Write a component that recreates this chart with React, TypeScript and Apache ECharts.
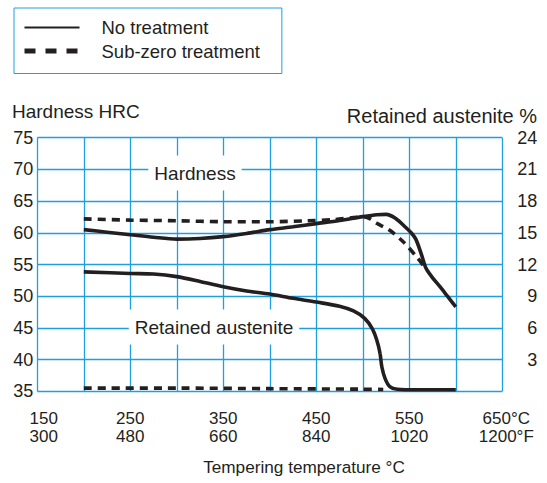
import React, { useEffect, useRef } from "react";
import * as echarts from "echarts";

// ---- data ----
const xTicksC = [150, 250, 350, 450, 550, 650];
const xTicksF = [300, 480, 660, 840, 1020, 1200];

// Hardness HRC vs tempering temperature (°C)
const hardnessNoTreatment: [number, number][] = [
  [200, 60.5], [225, 60.1], [250, 59.7], [275, 59.3], [300, 59.0], [325, 59.1],
  [350, 59.4], [375, 59.9], [400, 60.5], [425, 60.95], [450, 61.45], [475, 61.95],
  [500, 62.55], [515, 62.85], [525, 62.9], [535, 62.3], [545, 61.0], [552, 60.0],
  [557, 59.0], [563, 56.6], [568, 54.4], [574, 53.1], [583, 51.5], [591, 50.0], [600, 48.3],
];
const hardnessSubZero: [number, number][] = [
  [200, 62.2], [250, 62.0], [300, 61.9], [350, 61.75], [400, 61.75], [440, 61.9],
  [470, 62.1], [490, 62.4], [502, 62.5], [508, 62.2], [515, 61.5], [529, 60.4],
  [544, 58.5], [559, 56.0], [569, 54.1],
];
// Retained austenite % vs tempering temperature (°C)
const austeniteNoTreatment: [number, number][] = [
  [200, 11.3], [250, 11.15], [275, 11.1], [300, 10.85], [325, 10.4], [350, 9.9],
  [375, 9.5], [400, 9.2], [425, 8.8], [450, 8.45], [475, 8.05], [490, 7.6],
  [502, 6.9], [510, 5.95], [515, 4.85], [518.5, 3.6], [520.5, 2.3], [524, 1.2],
  [529, 0.45], [537, 0.2], [560, 0.15], [600, 0.15],
];
const austeniteSubZero: [number, number][] = [
  [200, 0.3], [300, 0.3], [400, 0.25], [500, 0.2], [522, 0.17],
];

const FONT = '"Liberation Sans", Arial, Helvetica, sans-serif';
const INK = "#231f20";
const BLUE = "#1ea0e0";

export default function App() {
  const ref = useRef<HTMLDivElement>(null);
  useEffect(() => {
    if (!ref.current) return;
    const chart = echarts.init(ref.current, undefined, { renderer: "svg" });
    const solid = { color: INK, width: 3.6, type: "solid" as const };
    const dashed = { color: INK, width: 3.6, type: [8, 6] as number[] };
    const tick = { fontSize: 17, lineHeight: 18, color: INK, fontFamily: FONT };
    chart.setOption({
      animation: false,
      backgroundColor: "#fff",
      textStyle: { fontFamily: FONT, color: INK },
      grid: { left: 37.3, top: 137.7, width: 465, height: 253.6, containLabel: false },
      legend: {
        left: 14,
        top: 8,
        orient: "vertical",
        padding: [10, 22, 13, 8],
        itemWidth: 55,
        itemHeight: 14,
        itemGap: 4.5,
        borderColor: BLUE,
        borderWidth: 1,
        selectedMode: false,
        textStyle: { fontSize: 18.5, color: INK, fontFamily: FONT, padding: [0, 0, 0, 17] },
        data: [
          {
            name: "No treatment",
            lineStyle: { width: 2.2, type: "solid", color: INK },
            itemStyle: { opacity: 0 },
          },
          {
            name: "Sub-zero treatment",
            lineStyle: { width: 5, type: [11, 10], color: INK },
            itemStyle: { opacity: 0 },
          },
        ],
      },
      xAxis: {
        type: "value",
        min: 150,
        max: 650,
        interval: 50,
        axisLine: { show: false },
        axisTick: { show: false },
        splitLine: { show: true, lineStyle: { color: BLUE, width: 1.3 } },
        axisLabel: {
          show: true,
          customValues: xTicksC,
          margin: 18,
          ...tick,
          rich: {
            a: { ...tick },
            first: { ...tick, padding: [0, 0, 0, 13] },
            last: { ...tick, padding: [0, 0, 0, 8] },
          },
          formatter: (v: number) => {
            const i = xTicksC.indexOf(Math.round(v));
            if (i < 0) return "";
            const last = i === xTicksC.length - 1;
            const k = i === 0 ? "first" : last ? "last" : "a";
            return `{${k}|${xTicksC[i]}${last ? "°C" : ""}}\n{${k}|${xTicksF[i]}${last ? "°F" : ""}}`;
          },
        },
      },
      yAxis: [
        {
          type: "value",
          min: 35,
          max: 75,
          interval: 5,
          axisLine: { show: false },
          axisTick: { show: false },
          axisLabel: { margin: 4, fontSize: 18, color: INK, fontFamily: FONT },
          splitLine: { show: true, lineStyle: { color: BLUE, width: 1.3 } },
        },
        {
          type: "value",
          position: "right",
          min: 0,
          max: 24,
          interval: 3,
          axisLine: { show: false },
          axisTick: { show: false },
          splitLine: { show: false },
          axisLabel: {
            margin: 35,
            align: "right",
            fontSize: 18,
            color: INK,
            fontFamily: FONT,
            formatter: (v: number) => (v === 0 ? "" : String(v)),
          },
        },
      ],
      series: [
        {
          name: "Sub-zero treatment", type: "line", yAxisIndex: 0,
          data: hardnessSubZero, smooth: 0.3, symbol: "none", lineStyle: dashed,
          itemStyle: { color: INK }, z: 3,
        },
        {
          name: "No treatment", type: "line", yAxisIndex: 0,
          data: hardnessNoTreatment, smooth: 0.3, symbol: "none", lineStyle: solid,
          itemStyle: { color: INK }, z: 4,
        },
        {
          name: "Sub-zero treatment", type: "line", yAxisIndex: 1,
          data: austeniteSubZero, smooth: 0.3, symbol: "none", lineStyle: dashed,
          itemStyle: { color: INK }, z: 3,
        },
        {
          name: "No treatment", type: "line", yAxisIndex: 1,
          data: austeniteNoTreatment, smooth: 0.3, symbol: "none", lineStyle: solid,
          itemStyle: { color: INK }, z: 4,
        },
      ],
      graphic: [
        {
          type: "text", x: 12, y: 111, z: 5,
          style: { text: "Hardness HRC", fill: INK, font: `19px ${FONT}`, align: "left", verticalAlign: "middle" },
        },
        {
          type: "text", x: 537, y: 116, z: 5,
          style: { text: "Retained austenite %", fill: INK, font: `20px ${FONT}`, align: "right", verticalAlign: "middle" },
        },
        {
          type: "text", x: 304, y: 467, z: 5,
          style: { text: "Tempering temperature °C", fill: INK, font: `17.2px ${FONT}`, align: "center", verticalAlign: "middle" },
        },
        {
          type: "text", x: 195, y: 173, z: 5,
          style: {
            text: "Hardness", fill: INK, font: `19px ${FONT}`, align: "center", verticalAlign: "middle",
            backgroundColor: "#fff", padding: [8, 6],
          },
        },
        {
          type: "text", x: 214, y: 327, z: 5,
          style: {
            text: "Retained austenite", fill: INK, font: `19px ${FONT}`, align: "center", verticalAlign: "middle",
            backgroundColor: "#fff", padding: [8, 6],
          },
        },
      ],
    });
    return () => chart.dispose();
  }, []);
  return (
    <div
      ref={ref}
      style={{ position: "fixed", left: 0, top: 0, width: 547, height: 483, background: "#fff" }}
    />
  );
}
